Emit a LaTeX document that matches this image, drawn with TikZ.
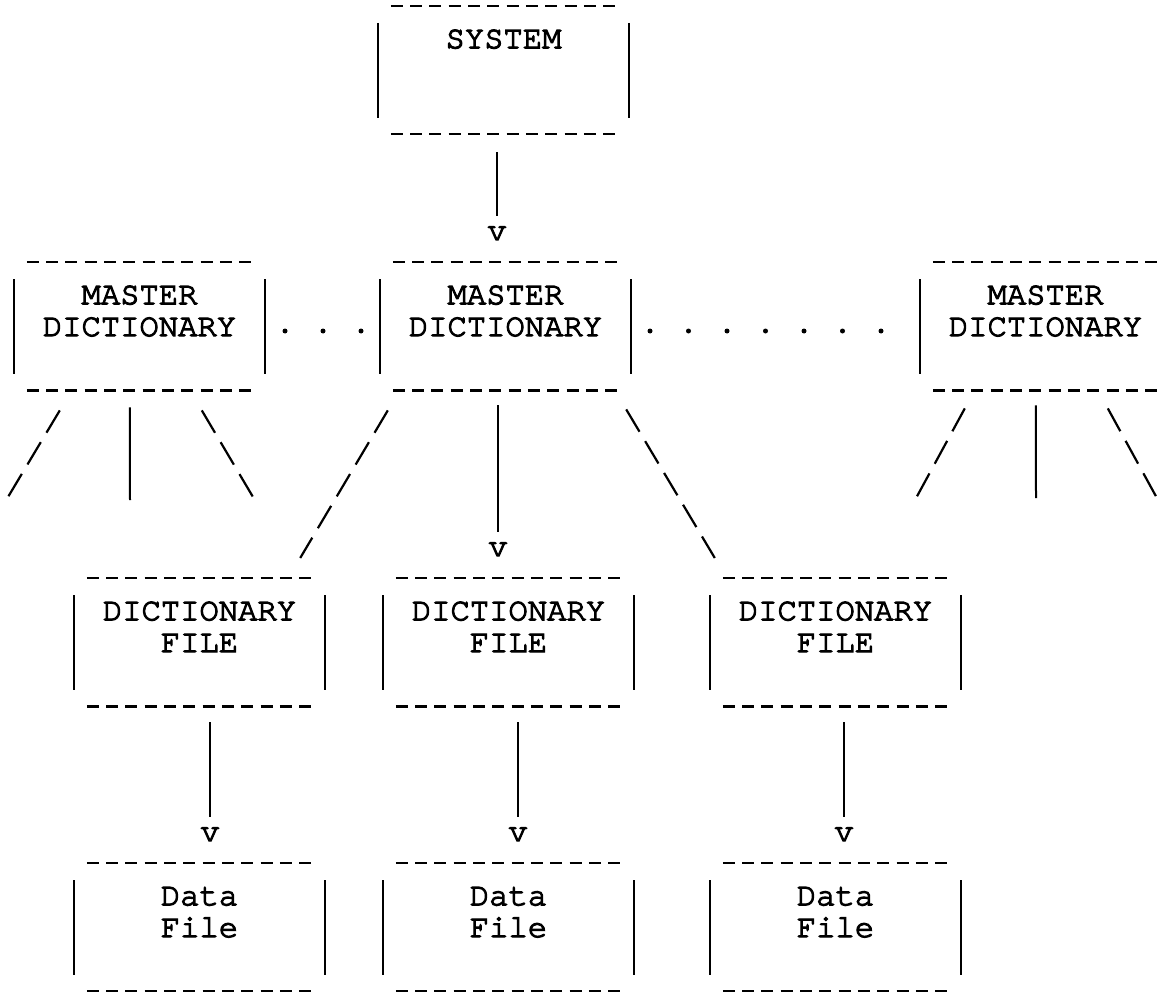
\documentclass[tikz,border=0pt]{standalone}
\usepackage{fontspec}
\setmonofont[FakeBold=3.6]{TeX Gyre Cursor}
\tikzset{>=stealth}
\tikzset{
  box/.style={minimum width=251pt, inner sep=0pt, anchor=north, align=center,
    text height=73.8pt, text depth=54.2pt, font=\ttfamily\fontsize{32.2}{31.8}\selectfont},
  tip/.style={inner sep=0pt, anchor=base, font=\ttfamily\fontsize{32.2}{31.8}\selectfont},
  rule/.style={line width=2.2pt, dash pattern=on 12pt off 7.3pt},
  side/.style={line width=2pt},
  link/.style={line width=2pt},
  slant/.style={line width=2.2pt, dash pattern=on 26pt off 11pt},
}

\begin{document}
\begin{tikzpicture}[x=1pt, y=-1pt]
\useasboundingbox (0,0) rectangle (1169,992);
% boxes
\node[box, text height=42pt, text depth=86pt] (sys) at (503.5,6) {SYSTEM};
\node[box] (mdA) at (139.5,262) {MASTER\\DICTIONARY};
\node[box] (mdB) at (505.5,262) {MASTER\\DICTIONARY};
\node[box] (mdC) at (1045.5,262) {MASTER\\DICTIONARY};
\node[box] (dfA) at (199.5,578) {DICTIONARY\\FILE};
\node[box] (dfB) at (508.5,578) {DICTIONARY\\FILE};
\node[box] (dfC) at (835.5,578) {DICTIONARY\\FILE};
\node[box] (dtA) at (199.5,863) {Data\\File};
\node[box] (dtB) at (508.5,863) {Data\\File};
\node[box] (dtC) at (835.5,863) {Data\\File};
\foreach \b in {sys,mdA,mdB,mdC,dfA,dfB,dfC,dtA,dtB,dtC}{
  \draw[rule] ([xshift=13pt]\b.north west) -- ([xshift=-13pt]\b.north east);
  \draw[rule] ([xshift=13pt]\b.south west) -- ([xshift=-13pt]\b.south east);
  \draw[side] ([yshift=-17pt]\b.north west) -- ([yshift=16pt]\b.south west);
  \draw[side] ([yshift=-17pt]\b.north east) -- ([yshift=16pt]\b.south east);
}
% arrow heads
\node[tip] (vS) at (497,240) {v};
\node[tip] (vB) at (498,556) {v};
\node[tip] (vA) at (210,841) {v};
\node[tip] (vD) at (518,841) {v};
\node[tip] (vC) at (844,841) {v};
\draw[link, shorten <=18pt, shorten >=10pt] (sys.south -| vS) -- (vS.north);
\draw[link, shorten <=15pt, shorten >=10pt] (mdB.south -| vB) -- (vB.north);
\draw[link, shorten <=16pt, shorten >=10pt] (dfA.south -| vA) -- (vA.north);
\draw[link, shorten <=16pt, shorten >=10pt] (dfB.south -| vD) -- (vD.north);
\draw[link, shorten <=16pt, shorten >=10pt] (dfC.south -| vC) -- (vC.north);
% dots
\foreach \x in {285,323,361,650,688.5,727,765.5,804,842.5,881}
  \fill (\x,331) circle (2.5pt);
% links
\draw[slant] ([xshift=8pt,yshift=-20pt]mdB.south west) -- ([xshift=-25pt,yshift=20pt]dfA.north east);
\draw[slant] ([xshift=-5pt,yshift=-19pt]mdB.south east) -- ([xshift=5pt,yshift=20pt]dfC.north west);
% free ends
\coordinate (eA1) at (8,497);
\coordinate (eA2) at (130,500);
\coordinate (eA3) at (253,497);
\coordinate (eC1) at (915,500);
\coordinate (eC2) at (1036,498);
\coordinate (eC3) at (1158,500);
\draw[slant] ([xshift=46pt,yshift=-20pt]mdA.south west) -- (eA1);
\draw[link] ([xshift=116pt,yshift=-17pt]mdA.south west) -- (eA2);
\draw[slant] ([xshift=188pt,yshift=-20pt]mdA.south west) -- (eA3);
\draw[slant] ([xshift=45pt,yshift=-18pt]mdC.south west) -- (eC1);
\draw[link] ([xshift=116pt,yshift=-15pt]mdC.south west) -- (eC2);
\draw[slant] ([xshift=188pt,yshift=-18pt]mdC.south west) -- (eC3);
\end{tikzpicture}
\end{document}
